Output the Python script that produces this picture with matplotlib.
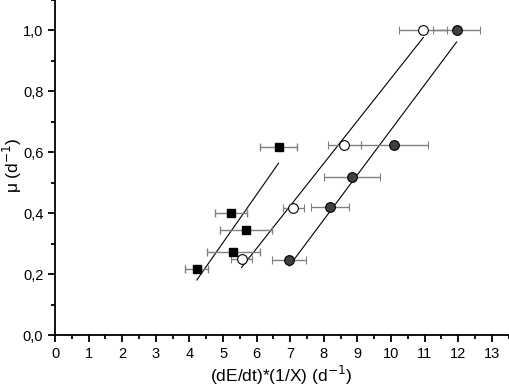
import matplotlib
matplotlib.use("Agg")
import matplotlib.pyplot as plt
from matplotlib.ticker import MultipleLocator, FuncFormatter

plt.rcParams['font.family'] = ['Liberation Sans', 'DejaVu Sans']

# squares
sq_x = [4.22, 5.23, 5.68, 5.31, 6.65]
sq_y = [0.217, 0.40, 0.345, 0.272, 0.619]
sq_err = [0.34, 0.48, 0.78, 0.79, 0.55]

# open circles
oc_x = [5.55, 7.09, 8.61, 10.96]
oc_y = [0.25, 0.418, 0.624, 1.0]
oc_err = [0.31, 0.32, 0.50, 0.71]

# filled circles
fc_x = [6.97, 8.18, 8.83, 10.10, 11.95]
fc_y = [0.246, 0.42, 0.518, 0.624, 1.0]
fc_err = [0.50, 0.56, 0.83, 1.00, 0.70]

# fit lines (end points)
sq_fit_x = [4.22, 6.65]
sq_fit_y = [0.181, 0.564]
oc_fit_x = [5.55, 10.96]
oc_fit_y = [0.222, 0.977]
fc_fit_x = [6.97, 11.95]
fc_fit_y = [0.227, 0.962]

fig = plt.figure(figsize=(5.1, 3.91), dpi=100)
ax = fig.add_axes([0.108, 0.143, 0.892, 0.857])

ebkw = dict(ls='none', ecolor='#808080', elinewidth=1, capsize=3, capthick=1)
ax.errorbar(sq_x, sq_y, xerr=sq_err, marker='s', ms=5.5, mfc='black', mec='black', zorder=3, **ebkw)
ax.errorbar(oc_x, oc_y, xerr=oc_err, marker='o', ms=7, mfc='white', mec='black', mew=0.8, zorder=3, **ebkw)
ax.errorbar(fc_x, fc_y, xerr=fc_err, marker='o', ms=7, mfc='#404040', mec='black', mew=0.8, zorder=3, **ebkw)

for fx, fy in [(sq_fit_x, sq_fit_y), (oc_fit_x, oc_fit_y), (fc_fit_x, fc_fit_y)]:
  ax.plot(fx, fy, color='black', lw=0.8, zorder=2)

ax.set_xlim(0, 13.54)
ax.set_ylim(0, 1.1)
ax.xaxis.set_major_locator(MultipleLocator(1))
ax.xaxis.set_minor_locator(MultipleLocator(0.5))
ax.yaxis.set_major_locator(MultipleLocator(0.2))
ax.yaxis.set_minor_locator(MultipleLocator(0.1))
ax.yaxis.set_major_formatter(FuncFormatter(lambda v, p: f"{v:.1f}".replace('.', ',')))

for s in ['top', 'right']:
  ax.spines[s].set_visible(False)
for s in ['left', 'bottom']:
  ax.spines[s].set_linewidth(1.3)
ax.tick_params(which='major', direction='out', length=5, width=1.3, labelsize=10.5)
ax.tick_params(which='minor', direction='out', length=3, width=1.3)

ax.set_xlabel('(dE/dt)*(1/X) (d$^{-1}$)', fontsize=12.5, va='center')
ax.set_ylabel('μ (d$^{-1}$)', fontsize=12.5, va='center')
ax.xaxis.set_label_coords(0.497, -0.119)
ax.yaxis.set_label_coords(-0.094, 0.506)

fig.savefig('out.png', dpi=100)
